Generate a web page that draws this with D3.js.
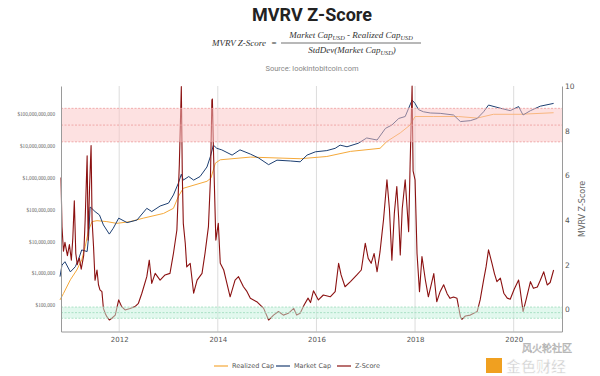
<!DOCTYPE html>
<html>
<head>
<meta charset="utf-8">
<script src="https://cdn.jsdelivr.net/npm/d3@7"></script>
<style>
  body { margin: 0; background: #fff; }
  svg { display: block; font-family: Roboto, "Open Sans", sans-serif; }
</style>
</head>
<body>
<svg id="chart"></svg>
<script>
// [decimal year, z-score]
const zScore = [
  [2010.82, 5.9], [2010.84, 3.7], [2010.87, 2.6], [2010.90, 3.0], [2010.95, 2.4], [2010.99, 2.9],
  [2011.03, 2.2], [2011.06, 3.2], [2011.09, 4.86], [2011.12, 2.5], [2011.15, 2.0], [2011.19, 2.3],
  [2011.23, 1.8], [2011.28, 2.4], [2011.31, 4.0], [2011.35, 6.87], [2011.37, 3.1], [2011.40, 5.5],
  [2011.43, 7.33], [2011.45, 4.0], [2011.48, 2.8], [2011.51, 1.3], [2011.55, 1.76], [2011.58, 1.1],
  [2011.61, 0.87], [2011.65, 0.79], [2011.68, 0.04], [2011.72, -0.2], [2011.75, -0.33], [2011.80, -0.48],
  [2011.85, -0.4], [2011.92, -0.26], [2011.99, 0.42], [2012.05, 0.12], [2012.12, -0.03], [2012.22, 0.04],
  [2012.32, 0.12], [2012.39, 0.27], [2012.46, 0.72], [2012.56, 1.46], [2012.61, 2.2], [2012.66, 1.16],
  [2012.73, 1.61], [2012.83, 1.31], [2012.93, 1.54], [2013.03, 1.61], [2013.10, 2.5], [2013.17, 3.55],
  [2013.22, 6.5], [2013.26, 9.97], [2013.28, 6.0], [2013.30, 3.85], [2013.34, 2.96], [2013.37, 1.9],
  [2013.44, 2.06], [2013.51, 0.72], [2013.58, 1.31], [2013.68, 1.61], [2013.74, 2.5], [2013.81, 3.7],
  [2013.85, 5.8], [2013.88, 9.37], [2013.89, 9.42], [2013.91, 7.28], [2013.96, 3.1], [2014.01, 3.85],
  [2014.05, 2.06], [2014.12, 1.76], [2014.17, 1.3], [2014.25, 0.56], [2014.35, 1.31], [2014.42, 1.46],
  [2014.52, 1.01], [2014.59, 0.8], [2014.66, 0.49], [2014.79, 0.34], [2014.93, 0.04], [2015.03, -0.48],
  [2015.13, -0.26], [2015.23, -0.1], [2015.33, -0.26], [2015.43, -0.18], [2015.54, 0.04], [2015.60, -0.26],
  [2015.67, -0.18], [2015.75, 0.19], [2015.83, 0.5], [2015.88, 0.3], [2015.94, 0.83], [2016.04, 0.42],
  [2016.14, 0.64], [2016.28, 0.56], [2016.38, 0.79], [2016.45, 2.06], [2016.50, 1.54], [2016.58, 1.01],
  [2016.69, 1.24], [2016.82, 1.54], [2016.91, 1.76], [2016.99, 2.96], [2017.05, 2.28], [2017.11, 2.06],
  [2017.17, 2.5], [2017.23, 1.68], [2017.29, 2.58], [2017.33, 3.4], [2017.36, 4.0], [2017.43, 5.8],
  [2017.48, 4.5], [2017.53, 2.2], [2017.58, 4.3], [2017.63, 5.5], [2017.67, 4.0], [2017.70, 2.43],
  [2017.74, 4.5], [2017.80, 5.8], [2017.87, 3.48], [2017.90, 6.5], [2017.94, 10.0], [2017.96, 6.2],
  [2018.00, 5.8], [2018.04, 2.5], [2018.09, 0.79], [2018.14, 2.36], [2018.21, 1.3], [2018.27, 0.56],
  [2018.38, 1.6], [2018.44, 0.34], [2018.51, 0.8], [2018.58, 1.1], [2018.65, 0.7], [2018.71, 0.49],
  [2018.78, 0.55], [2018.85, 0.49], [2018.92, -0.33], [2018.95, -0.45], [2019.02, -0.3], [2019.12, -0.26],
  [2019.26, -0.1], [2019.32, 0.42], [2019.39, 1.31], [2019.44, 1.9], [2019.49, 2.66], [2019.56, 2.06],
  [2019.61, 1.6], [2019.66, 1.24], [2019.73, 1.4], [2019.80, 0.72], [2019.87, 0.5], [2019.93, 0.45],
  [2020.01, 0.9], [2020.10, 1.31], [2020.13, 0.9], [2020.19, -0.1], [2020.26, 0.5], [2020.34, 1.24],
  [2020.40, 0.94], [2020.48, 1.0], [2020.54, 1.3], [2020.61, 1.68], [2020.68, 1.09], [2020.74, 1.2],
  [2020.81, 1.76]
];

// [decimal year, USD]
const marketCap = [
  [2010.80, 7.8e5], [2010.84, 1.8e6], [2010.90, 2.3e6], [2011.01, 1.1e6], [2011.11, 1.6e6], [2011.17, 2.6e6],
  [2011.24, 5.4e6], [2011.35, 4.8e6], [2011.38, 1.4e7], [2011.41, 1.2e8], [2011.43, 1.15e8], [2011.51, 8.7e7],
  [2011.60, 6.8e7], [2011.68, 3.3e7], [2011.80, 1.7e7], [2011.88, 2.6e7], [2011.99, 5.4e7], [2012.16, 3.9e7],
  [2012.36, 4.7e7], [2012.56, 1.1e8], [2012.66, 8.7e7], [2012.83, 1.3e8], [2013.00, 1.6e8], [2013.10, 2.9e8],
  [2013.20, 6.8e8], [2013.26, 1.3e9], [2013.30, 8.5e8], [2013.41, 1.1e9], [2013.51, 8.5e8], [2013.64, 1.1e9],
  [2013.78, 2.2e9], [2013.85, 4.7e9], [2013.91, 1.07e10], [2013.98, 8.5e9], [2014.08, 7.6e9], [2014.29, 5.2e9],
  [2014.45, 7.6e9], [2014.66, 5.6e9], [2014.83, 4.2e9], [2015.03, 2.6e9], [2015.20, 3.6e9], [2015.47, 3.4e9],
  [2015.67, 3.2e9], [2015.81, 5.2e9], [2015.98, 6.6e9], [2016.21, 7.2e9], [2016.38, 8.5e9], [2016.48, 1.07e10],
  [2016.62, 9.5e9], [2016.85, 1.23e10], [2017.02, 1.8e10], [2017.23, 1.55e10], [2017.40, 3.6e10], [2017.53, 4.6e10],
  [2017.67, 7.4e10], [2017.80, 8.5e10], [2017.94, 2.8e11], [2018.00, 2.2e11], [2018.07, 1.4e11], [2018.17, 1.2e11],
  [2018.31, 1.1e11], [2018.51, 1.07e11], [2018.78, 9.5e10], [2018.92, 5.9e10], [2019.12, 6.3e10], [2019.26, 7.4e10],
  [2019.39, 1.2e11], [2019.49, 1.95e11], [2019.73, 1.55e11], [2019.93, 1.3e11], [2020.10, 1.75e11], [2020.19, 9.5e10],
  [2020.34, 1.3e11], [2020.54, 1.8e11], [2020.81, 2.2e11]
];

const realizedCap = [
  [2010.80, 1.45e5], [2010.87, 2.3e5], [2011.01, 6.2e5], [2011.14, 1.26e6], [2011.24, 2.6e6], [2011.31, 6.8e6],
  [2011.38, 2.3e7], [2011.45, 4.2e7], [2011.55, 4.5e7], [2011.75, 4.2e7], [2011.95, 3.7e7], [2012.22, 4.2e7],
  [2012.49, 5.4e7], [2012.90, 7.6e7], [2013.10, 1.1e8], [2013.20, 2.6e8], [2013.30, 4.7e8], [2013.78, 7.8e8],
  [2013.86, 9.8e8], [2013.95, 2.9e9], [2014.05, 3.7e9], [2014.66, 4.5e9], [2015.67, 4.0e9], [2016.21, 4.7e9],
  [2016.69, 6.8e9], [2017.29, 8.5e9], [2017.43, 1.4e10], [2017.70, 2.6e10], [2017.90, 4.6e10], [2018.00, 8.5e10],
  [2018.38, 8.5e10], [2018.88, 8.5e10], [2019.26, 7.6e10], [2019.59, 1.0e11], [2020.13, 1.0e11], [2020.81, 1.12e11]
];

const yearTicks = [2012, 2014, 2016, 2018, 2020];
const capTicks = [1e5, 1e6, 1e7, 1e8, 1e9, 1e10, 1e11];
const zTicks = [0, 2, 4, 6, 8, 10];
const redBand = [7.5, 8.25, 9];
const greenBand = [-0.4, -0.15, 0.1];
const legendLabels = ['Realized Cap', 'Market Cap', 'Z-Score'];
const legendColors = ['#f5a93a', '#1d3f72', '#8b1111'];

const config = {
  containerWidth: 600,
  containerHeight: 376,
  margin: {top: 86, right: 38, bottom: 44.5, left: 61}
};
const width = config.containerWidth - config.margin.left - config.margin.right;
const height = config.containerHeight - config.margin.top - config.margin.bottom;

const svg = d3.select('#chart')
    .attr('width', config.containerWidth)
    .attr('height', config.containerHeight);

// Title + formula + source
svg.append('text')
    .attr('x', 312).attr('y', 21)
    .attr('text-anchor', 'middle')
    .attr('font-size', 18).attr('font-weight', 700)
    .attr('fill', '#222')
    .text('MVRV Z-Score');

const formula = svg.append('g')
    .attr('font-family', '"Liberation Serif", "DejaVu Serif", serif')
    .attr('font-style', 'italic')
    .attr('font-size', 9)
    .attr('fill', '#333');

formula.append('text')
    .attr('x', 266).attr('y', 46)
    .attr('text-anchor', 'end')
    .text('MVRV Z-Score');
formula.append('text')
    .attr('x', 274).attr('y', 46)
    .attr('text-anchor', 'middle')
    .attr('font-style', 'normal')
    .text('=');

const num = formula.append('text')
    .attr('x', 351).attr('y', 38)
    .attr('text-anchor', 'middle');
num.append('tspan').text('Market Cap');
num.append('tspan').attr('font-size', 6.3).attr('dy', 2).text('USD');
num.append('tspan').attr('dy', -2).text(' - Realized Cap');
num.append('tspan').attr('font-size', 6.3).attr('dy', 2).text('USD');

formula.append('line')
    .attr('x1', 281).attr('x2', 421)
    .attr('y1', 43).attr('y2', 43)
    .attr('stroke', '#333').attr('stroke-width', 0.7);

const den = formula.append('text')
    .attr('x', 352).attr('y', 53)
    .attr('text-anchor', 'middle');
den.append('tspan').text('StdDev(Market Cap');
den.append('tspan').attr('font-size', 6.3).attr('dy', 2).text('USD');
den.append('tspan').attr('dy', -2).text(')');

svg.append('text')
    .attr('x', 312).attr('y', 71)
    .attr('text-anchor', 'middle')
    .attr('font-size', 7.5)
    .attr('fill', '#888')
    .text('Source: lookintobitcoin.com');

// Chart
const chart = svg.append('g')
    .attr('transform', `translate(${config.margin.left},${config.margin.top})`);

const xScale = d3.scaleLinear().domain([2010.82, 2020.98]).range([0, width]);
const capScale = d3.scaleLog().domain([Math.pow(10, 4.166), Math.pow(10, 11.89)]).range([height, 0]);
const zScale = d3.scaleLinear().domain([-0.994, 10]).range([height, 0]);

// vertical grid
chart.selectAll('.grid')
  .data(yearTicks)
  .join('line')
    .attr('class', 'grid')
    .attr('x1', d => xScale(d)).attr('x2', d => xScale(d))
    .attr('y1', 0).attr('y2', height)
    .attr('stroke', '#dcdcdc').attr('stroke-width', 1);

// series
const lineCap = d3.line().x(d => xScale(d[0])).y(d => capScale(d[1]));
const lineZ = d3.line().x(d => xScale(d[0])).y(d => zScale(d[1]));

chart.append('path').datum(realizedCap)
    .attr('d', lineCap).attr('fill', 'none')
    .attr('stroke', legendColors[0]).attr('stroke-width', 1);
chart.append('path').datum(marketCap)
    .attr('d', lineCap).attr('fill', 'none')
    .attr('stroke', legendColors[1]).attr('stroke-width', 1);
chart.append('path').datum(zScore)
    .attr('d', lineZ).attr('fill', 'none')
    .attr('stroke', legendColors[2]).attr('stroke-width', 1.1)
    .attr('stroke-linejoin', 'round');

// bands drawn over lines, semi transparent
chart.append('rect')
    .attr('x', 0).attr('width', width)
    .attr('y', zScale(redBand[2]))
    .attr('height', zScale(redBand[0]) - zScale(redBand[2]))
    .attr('fill', '#fbc4c4').attr('fill-opacity', 0.5);
chart.append('rect')
    .attr('x', 0).attr('width', width)
    .attr('y', zScale(greenBand[2]))
    .attr('height', zScale(greenBand[0]) - zScale(greenBand[2]))
    .attr('fill', '#c6f1dd').attr('fill-opacity', 0.5);

chart.selectAll('.red-dash')
  .data(redBand)
  .join('line')
    .attr('class', 'red-dash')
    .attr('x1', 0).attr('x2', width)
    .attr('y1', d => zScale(d)).attr('y2', d => zScale(d))
    .attr('stroke', '#ee9a9a').attr('stroke-width', 0.8)
    .attr('stroke-dasharray', '2,1.5');
chart.selectAll('.green-dash')
  .data(greenBand)
  .join('line')
    .attr('class', 'green-dash')
    .attr('x1', 0).attr('x2', width)
    .attr('y1', d => zScale(d)).attr('y2', d => zScale(d))
    .attr('stroke', '#9adbb9').attr('stroke-width', 0.8)
    .attr('stroke-dasharray', '2,1.5');

// axes
const xAxis = d3.axisBottom(xScale).tickValues(yearTicks).tickFormat(d3.format('d')).tickSize(0).tickPadding(6);
const capAxis = d3.axisLeft(capScale).tickValues(capTicks).tickFormat(d => '$' + d3.format(',')(d)).tickSize(0).tickPadding(6);
const zAxis = d3.axisRight(zScale).tickValues(zTicks).tickSize(0).tickPadding(3);

const xAxisG = chart.append('g')
    .attr('class', 'axis x-axis')
    .attr('transform', `translate(0,${height})`)
    .call(xAxis);
xAxisG.selectAll('text').attr('font-size', 7).attr('fill', '#555').attr('font-family', '"DejaVu Sans", sans-serif');

const capAxisG = chart.append('g')
    .attr('class', 'axis y-axis')
    .call(capAxis);
capAxisG.selectAll('text').attr('font-size', 5.2).attr('fill', '#666').attr('font-family', '"Liberation Serif", serif');

const zAxisG = chart.append('g')
    .attr('class', 'axis z-axis')
    .attr('transform', `translate(${width},0)`)
    .call(zAxis);
zAxisG.selectAll('text').attr('font-size', 7.5).attr('fill', '#555').attr('font-family', '"DejaVu Sans", sans-serif');

svg.selectAll('.axis .domain').attr('stroke', '#9a9a9a').attr('stroke-width', 1);

svg.append('text')
    .attr('transform', `translate(582,${config.margin.top + zScale(4.5)}) rotate(-90)`)
    .attr('text-anchor', 'middle')
    .attr('dy', '0.35em')
    .attr('font-size', 8)
    .attr('fill', '#666')
    .attr('font-family', '"DejaVu Sans", sans-serif')
    .text('MVRV Z-Score');

// legend
const legendX = [214, 276, 337];
const legend = svg.append('g')
    .attr('font-family', '"DejaVu Sans", sans-serif')
    .attr('font-size', 6.5)
    .attr('fill', '#555');
legendLabels.forEach((label, i) => {
  legend.append('line')
      .attr('x1', legendX[i]).attr('x2', legendX[i] + 14)
      .attr('y1', 366).attr('y2', 366)
      .attr('stroke', legendColors[i]).attr('stroke-width', 1.2);
  legend.append('text')
      .attr('x', legendX[i] + 18).attr('y', 366)
      .attr('dy', '0.35em')
      .text(label);
});

// watermark
const mark = svg.append('g');
mark.append('text')
    .attr('x', 522).attr('y', 352)
    .attr('font-family', '"Noto Sans CJK SC", sans-serif')
    .attr('font-size', 10)
    .attr('fill', 'none').attr('stroke', '#aaa').attr('stroke-width', 0.5)
    .text('风火轮社区');
mark.append('rect')
    .attr('x', 486).attr('y', 358).attr('width', 16).attr('height', 15)
    .attr('fill', '#f0a020');
mark.append('text')
    .attr('x', 506).attr('y', 372)
    .attr('font-family', '"Noto Sans CJK SC", sans-serif')
    .attr('font-size', 15).attr('font-weight', 700)
    .attr('fill', '#d4d4d4').attr('stroke', '#fff').attr('stroke-width', 0.6)
    .text('金色财经');
</script>
</body>
</html>
